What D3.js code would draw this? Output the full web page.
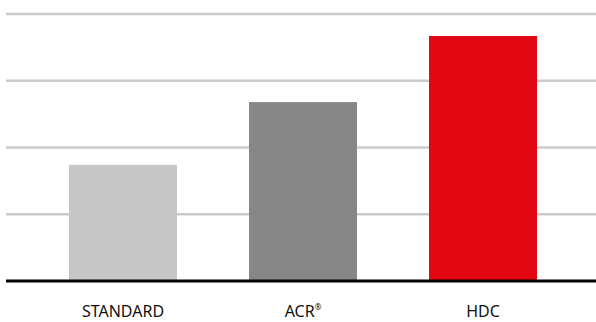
<!DOCTYPE html>
<html><head><meta charset="utf-8">
<script src="https://cdn.jsdelivr.net/npm/d3@7"></script>
<style>body{margin:0;background:#fff}svg{display:block}</style>
</head><body>
<svg id="c" width="596" height="322"></svg>
<script>
const categories = ["STANDARD", "ACR", "HDC"];
const values = [1.74, 2.68, 3.67];
const colors = ["#c6c6c6", "#878787", "#e30613"];
const gridTicks = [1, 2, 3, 4];

const svg = d3.select("#c");
const y = d3.scaleLinear().domain([0, 4]).range([281, 14]);
const x = d3.scaleBand().domain(categories).range([33, 573]).paddingInner(0.4).paddingOuter(0.2);

svg.append("g").selectAll("line").data(gridTicks).join("line")
  .attr("x1", 6).attr("x2", 596)
  .attr("y1", d => y(d)).attr("y2", d => y(d))
  .attr("stroke", "#cbcbcb").attr("stroke-width", 2.5);

svg.append("g").selectAll("rect").data(categories).join("rect")
  .attr("x", d => x(d)).attr("width", x.bandwidth())
  .attr("y", (d, i) => y(values[i])).attr("height", (d, i) => y(0) - y(values[i]))
  .attr("fill", (d, i) => colors[i]);

svg.append("line").attr("x1", 6).attr("x2", 596).attr("y1", y(0)).attr("y2", y(0))
  .attr("stroke", "#000").attr("stroke-width", 3);

const lab = svg.append("g").selectAll("text").data(categories).join("text")
  .attr("x", d => x(d) + x.bandwidth() / 2).attr("y", 317)
  .attr("text-anchor", "middle")
  .attr("font-family", "'Noto Sans', sans-serif").attr("font-size", 16).attr("fill", "#111");
lab.append("tspan").text(d => d);
lab.filter(d => d === "ACR").append("tspan").text("®").attr("font-size", 8).attr("dy", -7);
</script>
</body></html>
